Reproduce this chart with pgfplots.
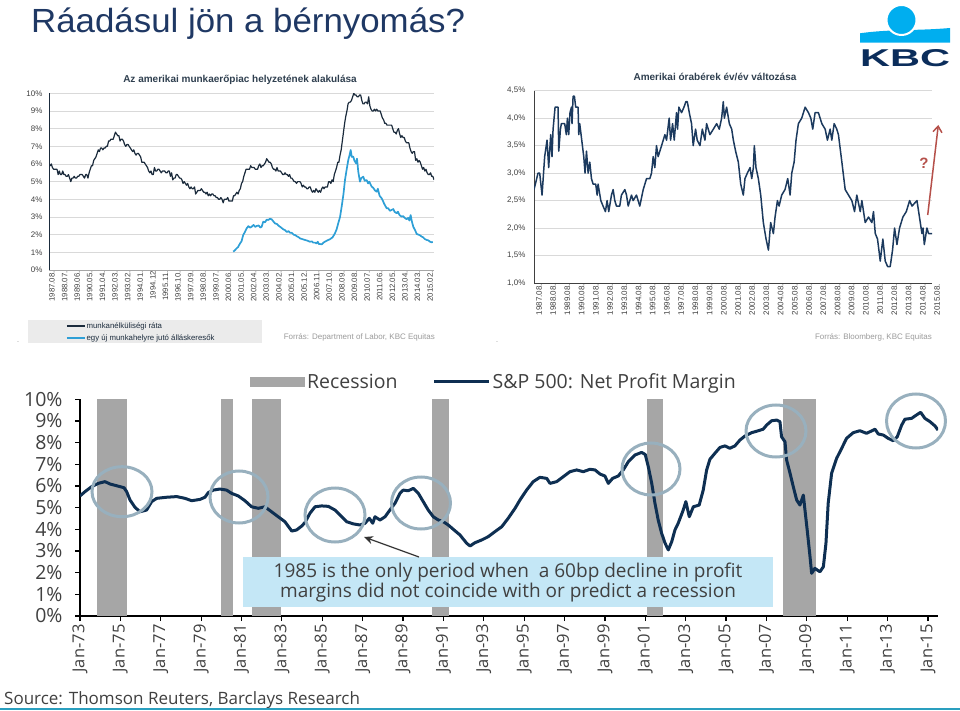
\documentclass[border=0pt]{standalone}
\usepackage{fontspec}
\setmainfont{Open Sans}
\newfontfamily\lib{Liberation Sans}
\usepackage{graphicx}
\usepackage{pgfplots}
\usepackage{pgfplotstable}
\pgfplotsset{compat=1.18}
\usetikzlibrary{arrows.meta}
\pgfplotsset{/pgf/number format/assume math mode=true}
\definecolor{titleblue}{HTML}{1F3864}
\definecolor{kbcnavy}{HTML}{0B2D5B}
\definecolor{kbcblue}{HTML}{00AEEF}
\definecolor{unemp}{HTML}{1B2B3C}
\definecolor{ratio}{HTML}{2E9FD6}
\definecolor{wage}{HTML}{1C3A5E}
\definecolor{gridgray}{HTML}{D9D9D9}
\definecolor{labgray}{HTML}{404040}
\definecolor{srcgray}{HTML}{9A9A9A}
\definecolor{recgray}{HTML}{A6A6A6}
\definecolor{margin}{HTML}{0E2F52}
\definecolor{ring}{HTML}{98B0BE}
\definecolor{annot}{HTML}{C4E7F6}
\definecolor{arrowred}{HTML}{B5504A}
\definecolor{legbox}{HTML}{EBEBEB}
\definecolor{tealline}{HTML}{2A9FBF}
\definecolor{smalltitle}{HTML}{2F3F4F}

% US unemployment rate, monthly from 1987.08 to 2015.08
\pgfplotstableread[row sep=\\]{u\\
6.0\\5.9\\6.0\\5.8\\5.7\\
5.7\\5.7\\5.7\\5.4\\5.6\\5.4\\5.4\\5.6\\5.4\\5.4\\5.3\\5.3\\
5.4\\5.2\\5.0\\5.2\\5.2\\5.3\\5.2\\5.2\\5.3\\5.3\\5.4\\5.4\\
5.4\\5.3\\5.2\\5.4\\5.4\\5.2\\5.5\\5.7\\5.9\\5.9\\6.2\\6.3\\
6.4\\6.6\\6.8\\6.7\\6.9\\6.9\\6.8\\6.9\\6.9\\7.0\\7.0\\7.3\\
7.3\\7.4\\7.4\\7.4\\7.6\\7.8\\7.7\\7.6\\7.6\\7.3\\7.4\\7.4\\
7.3\\7.1\\7.0\\7.1\\7.1\\7.0\\6.9\\6.8\\6.7\\6.8\\6.6\\6.5\\
6.6\\6.6\\6.5\\6.4\\6.1\\6.1\\6.1\\6.0\\5.9\\5.8\\5.6\\5.5\\
5.6\\5.4\\5.4\\5.8\\5.6\\5.6\\5.7\\5.7\\5.6\\5.5\\5.6\\5.6\\
5.6\\5.5\\5.5\\5.6\\5.6\\5.3\\5.5\\5.1\\5.2\\5.2\\5.4\\5.4\\
5.3\\5.2\\5.2\\5.1\\4.9\\5.0\\4.9\\4.8\\4.9\\4.7\\4.6\\4.7\\
4.6\\4.6\\4.7\\4.3\\4.4\\4.5\\4.5\\4.5\\4.6\\4.5\\4.4\\4.4\\
4.3\\4.4\\4.2\\4.3\\4.2\\4.3\\4.3\\4.2\\4.2\\4.1\\4.1\\4.0\\
4.0\\4.1\\4.0\\3.8\\4.0\\4.0\\4.0\\4.1\\3.9\\3.9\\3.9\\3.9\\
4.2\\4.2\\4.3\\4.4\\4.3\\4.5\\4.6\\4.9\\5.0\\5.3\\5.5\\5.7\\
5.7\\5.7\\5.7\\5.9\\5.8\\5.8\\5.8\\5.7\\5.7\\5.7\\5.9\\6.0\\
5.8\\5.9\\5.9\\6.0\\6.1\\6.3\\6.2\\6.1\\6.1\\6.0\\5.8\\5.7\\
5.7\\5.6\\5.8\\5.6\\5.6\\5.6\\5.5\\5.4\\5.4\\5.5\\5.4\\5.4\\
5.3\\5.4\\5.2\\5.2\\5.1\\5.0\\5.0\\4.9\\5.0\\5.0\\5.0\\4.9\\
4.7\\4.8\\4.7\\4.7\\4.6\\4.6\\4.7\\4.7\\4.5\\4.4\\4.5\\4.4\\
4.6\\4.5\\4.4\\4.5\\4.4\\4.6\\4.7\\4.6\\4.7\\4.7\\4.7\\5.0\\
5.0\\4.9\\5.1\\5.0\\5.4\\5.6\\5.8\\6.1\\6.1\\6.5\\6.8\\7.3\\
7.8\\8.3\\8.7\\9.0\\9.4\\9.5\\9.5\\9.6\\9.8\\10.0\\9.9\\9.9\\
9.8\\9.8\\9.9\\9.9\\9.6\\9.4\\9.4\\9.5\\9.5\\9.4\\9.8\\9.3\\
9.1\\9.0\\9.0\\9.1\\9.0\\9.1\\9.0\\9.0\\9.0\\8.8\\8.6\\8.5\\
8.3\\8.3\\8.2\\8.2\\8.2\\8.2\\8.2\\8.0\\7.8\\7.8\\7.7\\7.9\\
8.0\\7.7\\7.5\\7.6\\7.5\\7.5\\7.3\\7.2\\7.2\\7.2\\6.9\\6.7\\
6.6\\6.7\\6.7\\6.2\\6.3\\6.1\\6.2\\6.1\\5.9\\5.7\\5.8\\5.6\\
5.7\\5.5\\5.4\\5.4\\5.5\\5.3\\5.3\\5.1\\
}\unempdata

\begin{document}
\begin{tikzpicture}[x=1pt,y=1pt]
\path[use as bounding box] (0,0) rectangle (960,710);

% ---------- slide title and logo ----------
\node[anchor=base west, inner sep=0, text=titleblue] at (31,677)
  {\scalebox{1.04}[1]{\lib\fontsize{33.5}{38}\selectfont Ráadásul jön a bérnyomás?}};
\fill[kbcblue] (860,667.3) -- (860,676.7) .. controls (890,681) and (915,679) .. (950,682) -- (950,667.3) -- cycle;
\filldraw[fill=kbcblue, draw=white, line width=2pt] (901.5,690) circle [radius=15pt];
\node[anchor=south west, inner sep=0, text=kbcnavy] at (860,643)
  {\resizebox{90pt}{17pt}{\lib\bfseries KBC}};

% ---------- top-left chart ----------
\node[text=smalltitle, font=\lib\bfseries\fontsize{10}{12}\selectfont] at (240,630)
  {Az amerikai munkaerőpiac helyzetének alakulása};
\fill[legbox] (28,367) rectangle (262,390);
\begin{axis}[
  at={(49pt,440pt)}, anchor=south west,
  scale only axis, width=385pt, height=176.7pt,
  xmin=0, xmax=336, ymin=0, ymax=10,
  axis x line*=bottom, axis y line*=left,
  x axis line style={draw=gray!70, line width=0.8pt},
  y axis line style={draw=unemp, line width=0.9pt},
  ytick={0,...,10}, yticklabel={\pgfmathprintnumber{\tick}\%},
  ymajorgrids, grid style={gridgray, line width=0.6pt},
  xtick={0,11,...,330},
  xticklabels={1987.08.,1988.07.,1989.06.,1990.05.,1991.04.,1992.03.,1993.02.,1994.01.,1994.12,1995.11.,1996.10.,1997.09.,1998.08.,1999.07.,2000.06.,2001.05.,2002.04.,2003.03.,2004.02.,2005.01.,2005.12.,2006.11.,2007.10.,2008.09.,2009.08.,2010.07.,2011.06.,2012.05.,2013.04.,2014.03.,2015.02.},
  x tick label style={rotate=90, anchor=east, font=\lib\fontsize{7.8}{8}\selectfont, text=labgray, inner sep=1pt, yshift=-3pt},
  y tick label style={font=\lib\fontsize{8}{9}\selectfont, text=labgray, xshift=-3pt},
  major tick length=0pt,
  legend style={at={(0.036,-0.280)}, anchor=north west, draw=none, fill=none,
    font=\lib\fontsize{7.8}{9}\selectfont, text=unemp, row sep=2.5pt,
    nodes={inner sep=1pt}},
  legend cell align=left,
  legend image code/.code={\draw[#1, line width=1.6pt] (0pt,0pt) -- (18pt,0pt);},
]
\addplot[unemp, line width=1.2pt, line join=round] table[x expr=\coordindex, y=u] {\unempdata};
\addlegendentry{munkanélküliségi ráta}
\addplot[ratio, line width=1.7pt, line join=round] coordinates {
(160.8,1.04) (162,1.1) (163.8,1.23) (165,1.3) (166.7,1.5) (168,1.62) (169.5,1.98) (171,2.15) (172.5,2.36) (174,2.48) (175.5,2.4) (176.9,2.45) (178.5,2.55) (180,2.44) (181.2,2.49) (183,2.52) (184.5,2.4) (185.6,2.45) (187,2.74) (188.5,2.7) (190,2.85) (191.4,2.83) (192.8,2.9) (194.3,2.87) (195.8,2.75) (197.2,2.64) (199,2.6) (200.5,2.5) (201.6,2.45) (203,2.38) (204.5,2.3) (205.9,2.26) (207.5,2.15) (209,2.2) (210.3,2.11) (212,2.1) (213.5,2.0) (214.7,1.98) (216.5,1.9) (218,1.85) (219,1.79) (221,1.75) (223.4,1.7) (225.5,1.66) (227.7,1.6) (229.5,1.62) (230.5,1.55) (232.1,1.55) (233.5,1.5) (234.5,1.6) (235.5,1.47) (236.5,1.47) (238,1.45) (239.5,1.55) (240.8,1.6) (243,1.68) (245.2,1.74) (247.5,1.85) (249.6,2.08) (251,2.3) (252.4,2.64) (254,3.0) (255.4,3.58) (257,4.3) (258.3,5.09) (259.8,5.7) (261.2,6.23) (262.3,6.5) (263.3,6.79) (264.2,6.4) (265.5,6.42) (266.5,6.2) (267.9,6.04) (268.8,6.3) (269.9,5.57) (270.6,5.3) (271.4,5.0) (272.5,5.2) (274.3,5.28) (275.5,5.05) (277.2,5.09) (278.5,4.9) (279.5,5.0) (281.6,4.72) (283,4.65) (284.5,4.5) (286,4.43) (287,4.6) (288.5,4.2) (290.3,4.06) (291.5,3.9) (292.5,3.75) (294.7,3.49) (296,3.5) (297.5,3.35) (299,3.4) (300.5,3.45) (301.5,3.3) (303.4,3.21) (304.5,3.3) (306,3.1) (307.8,3.02) (309,3.05) (310.5,2.95) (312.1,2.87) (313.5,2.95) (314.5,2.8) (315.6,3.11) (316.5,2.8) (317.9,2.45) (319.5,2.25) (320.9,2.04) (322.5,2.0) (324,1.95) (325.2,1.89) (326.5,1.85) (328,1.75) (329.6,1.7) (331,1.68) (332.5,1.6) (333.9,1.57) (335,1.58)
};
\addlegendentry{egy új munkahelyre jutó álláskeresők}
\end{axis}
\node[anchor=east, text=srcgray, font=\lib\fontsize{8}{9}\selectfont, inner sep=0] at (435,373)
  {Forrás: Department of Labor, KBC Equitas};
\node[text=srcgray, font=\fontsize{6}{6}\selectfont] at (18,367) {-};

% ---------- top-right chart ----------
\node[text=smalltitle, font=\lib\bfseries\fontsize{10}{12}\selectfont] at (715,633)
  {Amerikai órabérek év/év változása};
\begin{axis}[
  at={(534pt,427pt)}, anchor=south west,
  scale only axis, width=398pt, height=192.3pt,
  xmin=0, xmax=336, ymin=1, ymax=4.5,
  axis x line*=bottom, axis y line*=left,
  axis line style={draw=labgray, line width=0.9pt},
  ytick={1,1.5,2,2.5,3,3.5,4,4.5},
  yticklabel={\pgfmathprintnumber[fixed,fixed zerofill,precision=1,use comma]{\tick}\%},
  ymajorgrids, grid style={gridgray, line width=0.6pt},
  xtick={0,12,...,336},
  xticklabels={1987.08.,1988.08.,1989.08.,1990.08.,1991.08.,1992.08.,1993.08.,1994.08.,1995.08.,1996.08.,1997.08.,1998.08.,1999.08.,2000.08.,2001.08.,2002.08.,2003.08.,2004.08.,2005.08.,2006.08.,2007.08.,2008.08.,2009.08.,2010.08.,2011.08.,2012.08.,2013.08.,2014.08.,2015.08.},
  x tick label style={rotate=90, anchor=east, font=\lib\fontsize{8}{9}\selectfont, text=labgray, inner sep=1pt, yshift=-5pt},
  y tick label style={font=\lib\fontsize{8}{9}\selectfont, text=labgray, xshift=-5pt},
  major tick length=0pt,
]
\addplot[wage, line width=1.5pt, line join=round] coordinates {
(0,2.7) (3.4,3.0) (4.8,3.0) (6.8,2.6) (9.0,3.3) (11.0,3.6) (12.4,3.1) (14.1,3.7) (15.2,3.3) (16.1,3.8) (17.8,4.2) (20.3,4.2) (20.9,3.4) (22.3,3.8) (23.1,3.9) (25.9,3.9) (27.3,3.7) (28.2,4.0) (29.3,3.7) (30.4,4.1) (31.6,4.2) (32.1,3.9) (33.0,4.4) (34.1,4.4) (35.2,4.2) (37.2,4.2) (37.8,3.7) (38.6,3.9) (40.3,3.6) (42.0,3.3) (43.1,3.0) (44.3,3.4) (45.7,3.0) (47.1,3.2) (48.5,2.9) (49.9,2.8) (52.1,2.8) (53.3,2.6) (54.1,2.8) (56.4,2.5) (58.3,2.4) (60.3,2.3) (61.7,2.5) (63.1,2.3) (65.4,2.6) (66.8,2.7) (68.2,2.5) (69.6,2.4) (72.4,2.4) (73.8,2.6) (76.7,2.7) (78.1,2.6) (79.5,2.4) (82.3,2.6) (83.7,2.5) (86.5,2.6) (89.3,2.4) (92.2,2.7) (95.0,2.9) (97.8,2.9) (99.2,3.0) (100.6,3.3) (102.0,3.1) (103.4,3.5) (104.8,3.3) (107.7,3.5) (110.5,3.7) (111.9,3.6) (114.1,4.0) (115.3,3.6) (117.0,3.9) (118.4,3.6) (120.3,4.1) (121.2,3.8) (122.3,4.2) (124.6,4.1) (126.6,4.2) (128.2,4.3) (129.4,4.3) (131.1,4.1) (133.0,3.9) (134.4,3.5) (136.4,3.8) (137.8,3.6) (140.1,3.5) (142.1,3.8) (144.3,3.6) (145.7,3.9) (148.5,3.7) (151.4,3.8) (154.2,3.9) (156.4,3.8) (158.4,4.0) (159.8,4.3) (160.7,4.0) (162.6,4.2) (164.9,3.9) (166.9,3.8) (168.3,3.6) (170.2,3.4) (172.5,3.2) (174.5,2.8) (176.7,2.6) (178.1,2.9) (180.1,3.0) (182.4,3.1) (183.8,2.9) (185.2,3.1) (186.0,3.5) (187.4,3.1) (189.4,2.9) (191.4,2.6) (193.6,2.1) (195.9,1.8) (197.9,1.6) (199.8,2.1) (202.1,1.9) (203.5,2.2) (205.5,2.5) (206.9,2.4) (209.1,2.6) (211.9,2.7) (214.2,2.9) (216.2,2.6) (217.6,3.0) (219.6,3.2) (221.2,3.6) (223.2,3.9) (226.0,4.0) (228.9,4.2) (231.7,4.1) (233.7,4.0) (235.3,3.8) (237.3,4.1) (240.1,4.1) (243.0,3.9) (245.8,3.8) (247.7,3.6) (250.0,3.8) (251.4,3.6) (253.4,3.9) (255.6,3.8) (257.0,3.7) (259.9,3.2) (262.7,2.7) (265.5,2.6) (268.3,2.5) (270.6,2.3) (272.5,2.6) (275.4,2.3) (276.8,2.5) (279.6,2.1) (282.4,2.2) (285.2,2.1) (286.6,2.3) (288.1,1.9) (290.0,1.8) (292.3,1.4) (294.5,1.8) (296.5,1.4) (298.5,1.3) (300.7,1.3) (302.7,1.6) (304.4,2.0) (306.4,1.7) (308.6,2.0) (311.4,2.2) (314.3,2.3) (317.1,2.5) (319.1,2.4) (323.3,2.5) (324.7,2.3) (327.5,1.9) (328.4,2.0) (329.5,1.7) (331.7,2.0) (333.1,1.9) (336.0,1.9)
};
\end{axis}
\draw[arrowred, line width=1.5pt, -{Straight Barb[length=6pt,width=9pt]}] (927.7,495) -- (938.3,585);
\node[text=arrowred, font=\lib\bfseries\fontsize{15}{16}\selectfont] at (924,547) {?};
\node[anchor=east, text=srcgray, font=\lib\fontsize{8}{9}\selectfont, inner sep=0] at (932,373)
  {Forrás: Bloomberg, KBC Equitas};
\node[text=srcgray, font=\fontsize{6}{6}\selectfont] at (497,367) {-};

% ---------- bottom chart ----------
\begin{axis}[
  at={(80pt,94pt)}, anchor=south west,
  scale only axis, width=858pt, height=216.7pt,
  xmin=1973, xmax=2015.5, ymin=0, ymax=10,
  axis x line*=bottom, axis y line*=left,
  axis line style={black, line width=1.8pt},
  xtick={1973,1975,...,2015},
  xticklabels={Jan-73,Jan-75,Jan-77,Jan-79,Jan-81,Jan-83,Jan-85,Jan-87,Jan-89,Jan-91,Jan-93,Jan-95,Jan-97,Jan-99,Jan-01,Jan-03,Jan-05,Jan-07,Jan-09,Jan-11,Jan-13,Jan-15},
  ytick={0,...,10}, yticklabel={\pgfmathprintnumber{\tick}\%},
  x tick label style={rotate=90, anchor=east, font=\fontsize{16.5}{18}\selectfont, text=labgray},
  y tick label style={font=\fontsize{19.5}{20}\selectfont, text=labgray, xshift=-9pt},
  tick style={black, line width=1.2pt}, major tick length=5pt, tick align=outside,
  legend columns=2,
  legend style={at={(0.1946,1.029)}, anchor=south west, draw=none, fill=none,
    font=\fontsize{19.5}{21}\selectfont, text=labgray,
    /tikz/every even column/.append style={column sep=33pt},
    nodes={inner xsep=2pt, inner ysep=1pt}},
]
\addplot[fill=recgray, draw=none,
  legend image code/.code={\fill[recgray] (0pt,-5pt) rectangle (55pt,5pt);}]
  coordinates {(1973.86,0) (1973.86,10) (1975.31,10) (1975.31,0)} -- cycle;
\addlegendentry{Recession}
\addplot[fill=recgray, draw=none, forget plot] coordinates {(1980.0,0) (1980.0,10) (1980.59,10) (1980.59,0)} -- cycle;
\addplot[fill=recgray, draw=none, forget plot] coordinates {(1981.5,0) (1981.5,10) (1982.94,10) (1982.94,0)} -- cycle;
\addplot[fill=recgray, draw=none, forget plot] coordinates {(1990.45,0) (1990.45,10) (1991.28,10) (1991.28,0)} -- cycle;
\addplot[fill=recgray, draw=none, forget plot] coordinates {(2001.1,0) (2001.1,10) (2001.89,10) (2001.89,0)} -- cycle;
\addplot[fill=recgray, draw=none, forget plot] coordinates {(2007.8,0) (2007.8,10) (2009.44,10) (2009.44,0)} -- cycle;
\addplot[margin, line width=3pt, line join=round,
  legend image code/.code={\draw[margin, line width=3pt] (0pt,0pt) -- (55pt,0pt);}]
  coordinates {
(1973.0,5.54) (1973.25,5.74) (1973.58,5.97) (1973.9,6.12) (1974.24,6.2) (1974.49,6.09) (1974.82,6.01) (1975.18,5.92) (1975.31,5.74) (1975.48,5.35) (1975.72,5.02) (1975.97,4.81) (1976.3,4.89) (1976.55,5.28) (1976.8,5.43) (1977.29,5.48) (1977.79,5.51) (1978.2,5.43) (1978.53,5.32) (1978.94,5.38) (1979.19,5.48) (1979.35,5.69) (1979.6,5.81) (1979.93,5.86) (1980.26,5.81) (1980.51,5.66) (1980.84,5.54) (1981.17,5.32) (1981.5,5.04) (1981.83,4.97) (1982.16,5.04) (1982.49,4.81) (1982.82,4.58) (1983.15,4.35) (1983.49,3.92) (1983.73,3.97) (1983.98,4.15) (1984.14,4.31) (1984.39,4.74) (1984.64,5.04) (1984.97,5.08) (1985.3,5.06) (1985.63,4.89) (1985.96,4.58) (1986.21,4.35) (1986.54,4.25) (1986.87,4.2) (1987.12,4.28) (1987.33,4.51) (1987.5,4.28) (1987.61,4.58) (1987.86,4.43) (1988.11,4.58) (1988.35,4.89) (1988.6,5.2) (1988.85,5.66) (1989.01,5.81) (1989.26,5.78) (1989.51,5.89) (1989.76,5.66) (1990.0,5.28) (1990.25,4.89) (1990.5,4.58) (1990.75,4.43) (1991.0,4.35) (1991.24,4.2) (1991.49,4.0) (1991.82,3.74) (1992.15,3.36) (1992.32,3.23) (1992.56,3.38) (1992.9,3.51) (1993.22,3.66) (1993.55,3.89) (1993.89,4.12) (1994.21,4.51) (1994.55,4.97) (1994.79,5.35) (1995.12,5.81) (1995.45,6.2) (1995.78,6.4) (1996.12,6.35) (1996.28,6.12) (1996.61,6.2) (1996.94,6.43) (1997.27,6.66) (1997.6,6.74) (1997.93,6.66) (1998.26,6.77) (1998.51,6.74) (1998.76,6.55) (1999.0,6.46) (1999.17,6.12) (1999.38,6.35) (1999.66,6.46) (1999.91,6.74) (2000.16,7.12) (2000.49,7.43) (2000.82,7.55) (2001.0,7.45) (2001.15,6.89) (2001.32,6.12) (2001.48,5.2) (2001.64,4.43) (2001.81,3.82) (2001.98,3.36) (2002.14,3.05) (2002.31,3.43) (2002.47,3.97) (2002.63,4.28) (2002.88,4.89) (2003.01,5.28) (2003.18,4.58) (2003.38,5.04) (2003.67,5.12) (2003.87,5.81) (2004.04,6.74) (2004.2,7.23) (2004.45,7.51) (2004.7,7.78) (2004.95,7.85) (2005.19,7.74) (2005.44,7.85) (2005.69,8.12) (2005.94,8.31) (2006.27,8.46) (2006.6,8.55) (2006.84,8.62) (2007.01,8.81) (2007.26,9.01) (2007.51,9.04) (2007.67,8.97) (2007.75,8.27) (2007.92,8.04) (2008.0,7.2) (2008.17,6.59) (2008.33,5.97) (2008.5,5.35) (2008.66,5.12) (2008.83,5.58) (2008.91,4.89) (2009.02,3.97) (2009.16,2.74) (2009.24,1.97) (2009.4,2.2) (2009.65,2.04) (2009.82,2.27) (2009.95,3.36) (2010.06,5.2) (2010.23,6.59) (2010.48,7.28) (2010.73,7.74) (2010.97,8.2) (2011.3,8.46) (2011.63,8.55) (2011.96,8.43) (2012.21,8.54) (2012.38,8.62) (2012.54,8.4) (2012.79,8.35) (2013.03,8.2) (2013.28,8.09) (2013.48,8.27) (2013.7,8.81) (2013.86,9.08) (2014.19,9.12) (2014.44,9.28) (2014.64,9.4) (2014.85,9.12) (2015.1,8.97) (2015.35,8.77) (2015.5,8.58)
};
\addlegendentry{S\&P 500: Net Profit Margin}
\end{axis}

% rings
\begin{scope}[ring, line width=3pt]
\draw (122,218.3) ellipse [x radius=30pt, y radius=25pt];
\draw (239,213) ellipse [x radius=29pt, y radius=26pt];
\draw (335,195) ellipse [x radius=30pt, y radius=27pt];
\draw (421,207) ellipse [x radius=29.5pt, y radius=26pt];
\draw (651,241) ellipse [x radius=29pt, y radius=26pt];
\draw (776,279) ellipse [x radius=30pt, y radius=26pt];
\draw (916,289) ellipse [x radius=29.5pt, y radius=27pt];
\end{scope}

% annotation
\fill[annot] (243,103) rectangle (773,153);
\node[align=center, text=labgray, font=\fontsize{19}{18}\selectfont] at (508,127)
  {1985 is the only period when\ \ a 60bp decline in profit\\margins did not coincide with or predict a recession};
\draw[black!80, line width=1.2pt, -{Stealth[length=9pt,width=8pt]}] (419,153) -- (364,173);

\node[anchor=west, text=labgray, font=\fontsize{17}{18}\selectfont, inner sep=0] at (4,10)
  {Source: Thomson Reuters, Barclays Research};
\draw[tealline, line width=2pt] (0,1) -- (960,1);
\end{tikzpicture}
\end{document}
